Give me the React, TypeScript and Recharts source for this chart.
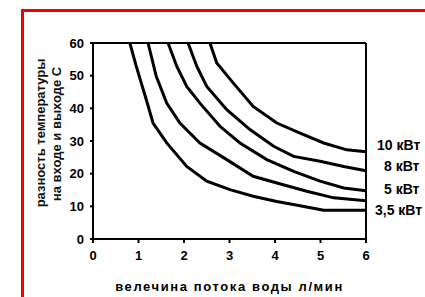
import { LineChart, Line, XAxis, YAxis, Label, ReferenceLine } from 'recharts';

// расход воды (л/мин) и разность температур (°C)
const flow35 = [0.81, 0.95, 1.17, 1.32, 1.62, 2.06, 2.5, 3.01, 3.52, 4.04, 4.55, 5.07, 6.0];
const dt35 = [60, 52.9, 42.7, 35.5, 29.4, 22.2, 17.7, 15.1, 13.1, 11.5, 10.2, 8.8, 8.8];

const flowB = [1.21, 1.39, 1.62, 1.91, 2.35, 2.94, 3.52, 4.18, 4.7, 5.29, 6.0];
const dtB = [60, 49.8, 41.6, 35.5, 29.4, 24.3, 19.2, 16.6, 14.6, 12.6, 11.7];

const flow5 = [1.65, 1.84, 2.06, 2.35, 2.79, 3.23, 3.82, 4.41, 4.99, 5.51, 6.0];
const dt5 = [60, 52.9, 46.7, 41.6, 34.5, 29.4, 24.3, 20.7, 17.7, 15.6, 14.8];

const flow8 = [2.09, 2.28, 2.5, 2.94, 3.45, 3.97, 4.41, 4.99, 5.51, 6.0];
const dt8 = [60, 52.9, 46.7, 39.6, 33.5, 28.4, 25.3, 23.8, 22.2, 20.9];

const flow10 = [2.57, 2.72, 3.08, 3.52, 4.04, 4.55, 5.07, 5.58, 6.0];
const dt10 = [60, 53.9, 47.8, 40.6, 35.5, 32.4, 29.4, 27.3, 26.7];

const xTicks = [0, 1, 2, 3, 4, 5, 6];
const yTicks = [0, 10, 20, 30, 40, 50, 60];

const toPoints = (xs: number[], ys: number[]) => xs.map((x, i) => ({ x, y: ys[i] }));

const series = [
  { key: 's35', data: toPoints(flow35, dt35), label: '3,5 кВт', dx: 9, dy: 1 },
  { key: 'sB', data: toPoints(flowB, dtB), label: '', dx: 0, dy: 0 },
  { key: 's5', data: toPoints(flow5, dt5), label: '5 кВт', dx: 18, dy: 0 },
  { key: 's8', data: toPoints(flow8, dt8), label: '8 кВт', dx: 18, dy: -3 },
  { key: 's10', data: toPoints(flow10, dt10), label: '10 кВт', dx: 11, dy: -5 }
];

const font = 'Arial, "Liberation Sans", sans-serif';

export default function App() {
  return (
    <div style={{ position: 'absolute', left: 0, top: 0, width: 425, height: 297, overflow: 'hidden', background: '#fff' }}>
      <LineChart width={425} height={297} margin={{ top: 43, right: 59, bottom: 28, left: 63 }}>
        <XAxis
          type="number"
          dataKey="x"
          domain={[0, 6]}
          ticks={xTicks}
          height={30}
          axisLine={{ stroke: '#000', strokeWidth: 2 }}
          tickLine={{ stroke: '#000', strokeWidth: 2 }}
          tickSize={4}
          tickMargin={8}
          tick={{ fill: '#000', fontSize: 13, fontWeight: 'bold', fontFamily: font }}
          allowDuplicatedCategory={false}
        >
          <Label
            value="велечина потока воды л/мин"
            position="insideBottom"
            offset={-22}
            style={{ fill: '#000', fontSize: 13, fontWeight: 'bold', fontFamily: font, letterSpacing: 1.6 }}
          />
        </XAxis>
        <YAxis
          type="number"
          domain={[0, 60]}
          ticks={yTicks}
          width={30}
          axisLine={{ stroke: '#000', strokeWidth: 2 }}
          tickLine={{ stroke: '#000', strokeWidth: 2 }}
          tickSize={3}
          tickMargin={6}
          tick={{ fill: '#000', fontSize: 13, fontWeight: 'bold', fontFamily: font }}
        />
        <ReferenceLine y={60} stroke="#000" strokeWidth={2} ifOverflow="visible" />
        <ReferenceLine x={6} stroke="#000" strokeWidth={2} ifOverflow="visible" />
        {series.map(s => (
          <Line
            key={s.key}
            data={s.data}
            dataKey="y"
            type="linear"
            stroke="#000"
            strokeWidth={3}
            dot={false}
            isAnimationActive={false}
            label={(p: any) =>
              p.index === s.data.length - 1 && s.label ? (
                <text
                  key={s.key + 'lbl'}
                  x={p.x + s.dx}
                  y={p.y + s.dy}
                  dominantBaseline="middle"
                  style={{ fontSize: 14, fontWeight: 'bold', fontFamily: font, fill: '#000' }}
                >
                  {s.label}
                </text>
              ) : (
                <g key={s.key + 'e' + p.index} />
              )
            }
          />
        ))}
      </LineChart>
      {/* рамка рисунка (временно красная, для проверки) */}
      <div style={{ position: 'absolute', left: 21, top: 9, width: 3, height: 288, background: '#e00', zIndex: 5 }} />
      <div style={{ position: 'absolute', left: 21, top: 9, width: 404, height: 3, background: '#e00', zIndex: 5 }} />
      {/* подпись оси Y */}
      <svg width={425} height={297} style={{ position: 'absolute', left: 0, top: 0, zIndex: 4, pointerEvents: 'none' }}>
        <g fontSize={13} fontWeight="bold" fontFamily={font} fill="#111">
          <text x={45} y={133} textAnchor="middle" transform="rotate(-90 45 133)">разность температуры</text>
          <text x={61} y={134} textAnchor="middle" transform="rotate(-90 61 134)">на входе и выходе С</text>
        </g>
      </svg>
    </div>
  );
}
